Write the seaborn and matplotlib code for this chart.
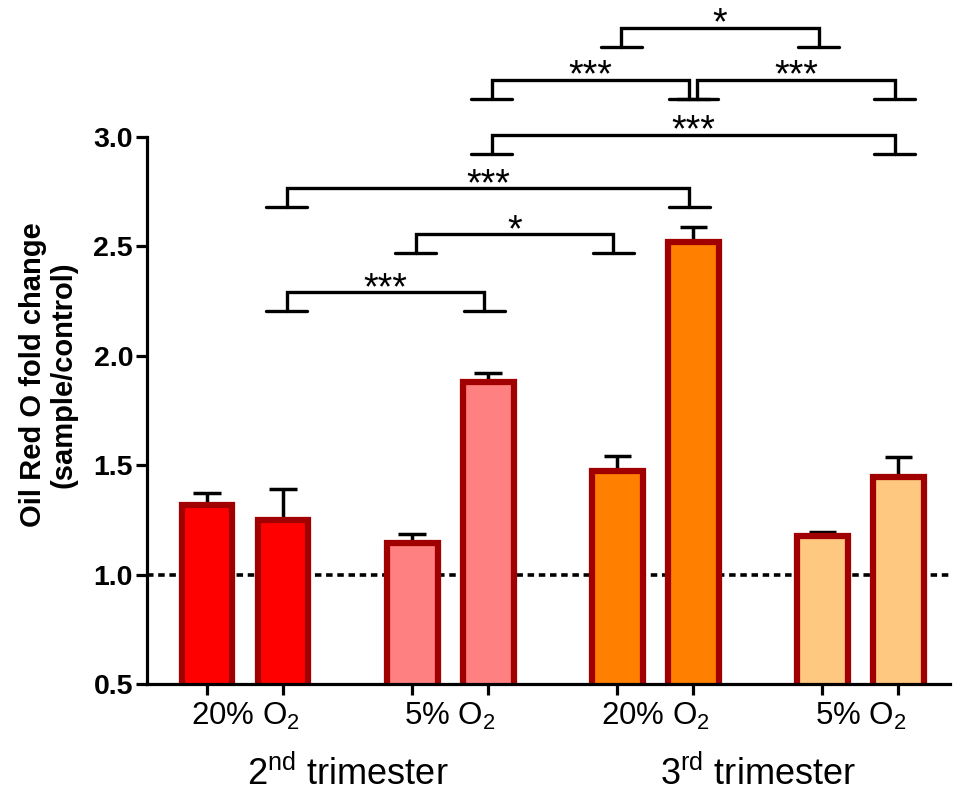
import numpy as np
import pandas as pd
import matplotlib
matplotlib.use("Agg")
import matplotlib.pyplot as plt
from matplotlib import transforms
import seaborn as sns

# Bar data (two bars per oxygen condition, grouped by trimester)
bar_names = ["T2-20-a", "T2-20-b", "T2-5-a", "T2-5-b",
             "T3-20-a", "T3-20-b", "T3-5-a", "T3-5-b"]
positions = [0.0, 1.0, 2.7, 3.7, 5.4, 6.4, 8.1, 9.1]
means = [1.32, 1.25, 1.146, 1.882, 1.475, 2.521, 1.176, 1.444]
sems = [0.052, 0.14, 0.04, 0.038, 0.068, 0.069, 0.017, 0.092]
fill_colors = ["#FF0000", "#FF0000", "#FF8080", "#FF8080",
               "#FF8000", "#FF8000", "#FFC880", "#FFC880"]

oxygen_labels = ["20% O$_2$", "5% O$_2$", "20% O$_2$", "5% O$_2$"]
trimester_labels = ["2$^{\\mathrm{nd}}$ trimester", "3$^{\\mathrm{rd}}$ trimester"]

# Significance comparisons: (left bar index, right bar index, bracket height, stars)
comparisons = [
    (1, 3, 2.29, "***"),
    (2, 4, 2.555, "*"),
    (1, 5, 2.765, "***"),
    (3, 7, 3.01, "***"),
    (3, 5, 3.26, "***"),
    (5, 7, 3.26, "***"),
    (4, 6, 3.50, "*"),
]

EDGE = "#A00000"

sns.set_style("ticks")
plt.rcParams["font.family"] = ["Liberation Sans", "DejaVu Sans"]
plt.rcParams["mathtext.fontset"] = "custom"
plt.rcParams["mathtext.rm"] = "Liberation Sans"
plt.rcParams["mathtext.it"] = "Liberation Sans:italic"
plt.rcParams["mathtext.bf"] = "Liberation Sans:bold"
for key in ["text.color", "axes.labelcolor", "xtick.color", "ytick.color",
            "xtick.labelcolor", "ytick.labelcolor"]:
    plt.rcParams[key] = "black"

fig = plt.figure(figsize=(9.55, 7.94), dpi=100)
ax = fig.add_axes([0.1539, 0.1385, 0.9948 - 0.1539, 0.8275 - 0.1385])

df = pd.DataFrame({"pos": positions, "value": means, "bar": bar_names})

# reference line at fold change 1
ax.axhline(1.0, color="black", lw=2.6, ls=(0, (1.8, 1.3)), zorder=1)

sns.barplot(data=df, x="pos", y="value", hue="bar", palette=fill_colors,
            native_scale=True, dodge=False, width=0.67, saturation=1,
            edgecolor=EDGE, linewidth=4.5, legend=False, ax=ax, zorder=2)

pos = np.array(positions)
m = np.array(means)
e = np.array(sems)
ax.vlines(pos, m, m + e, color="black", lw=2.5, zorder=1.5)
ax.hlines(m + e, pos - 0.18, pos + 0.18, color="black", lw=2.5, zorder=1.5)

ax.set_xlim(-0.79, 9.78)
ax.set_ylim(0.5, 3.0)
ax.set_yticks([0.5, 1.0, 1.5, 2.0, 2.5, 3.0])
ax.set_yticklabels([f"{v:.1f}" for v in [0.5, 1.0, 1.5, 2.0, 2.5, 3.0]],
                   fontsize=20.5, fontweight="bold")

ax.set_xticks(positions, labels=[""] * len(positions))
mids = [(positions[i] + positions[i + 1]) / 2 for i in range(0, 8, 2)]
ax.set_xticks(mids, labels=oxygen_labels, minor=True)
ax.tick_params(axis="x", which="minor", length=0, labelsize=22.5, pad=12)
ax.tick_params(axis="x", which="major", length=8, width=2.3, color="black")
ax.tick_params(axis="y", which="major", length=8, width=2.3, color="black", pad=2)

for side in ["top", "right"]:
    ax.spines[side].set_visible(False)
for side in ["left", "bottom"]:
    ax.spines[side].set_linewidth(2.3)
    ax.spines[side].set_color("black")

ax.set_xlabel("")
ax.set_ylabel("Oil Red O fold change\n(sample/control)", fontsize=21,
              fontweight="bold", linespacing=1.1)
ax.yaxis.set_label_coords(-0.087, 0.565)

blend = transforms.blended_transform_factory(ax.transData, ax.transAxes)
group_mids = [(positions[0] + positions[3]) / 2, (positions[4] + positions[7]) / 2]
for gx, lab in zip(group_mids, trimester_labels):
    ax.text(gx, -0.165, lab, transform=blend, ha="center", va="center", fontsize=26)

# significance brackets
drop = 0.087
foot = 0.27
inset = 0.05
for i, j, y, stars in comparisons:
    x1 = positions[i] + inset
    x2 = positions[j] - inset
    ax.plot([x1, x1, x2, x2], [y - drop, y, y, y - drop], color="black", lw=2.4,
            clip_on=False, solid_capstyle="round", solid_joinstyle="miter", zorder=4)
    for xe in (x1, x2):
        ax.plot([xe - foot, xe + foot], [y - drop, y - drop], color="black", lw=2.4,
                clip_on=False, solid_capstyle="round", zorder=4)
    ax.text((x1 + x2) / 2, y - 0.03, stars, ha="center", va="baseline",
            fontsize=27, clip_on=False, zorder=4)

fig.savefig("out.png", dpi=100)
